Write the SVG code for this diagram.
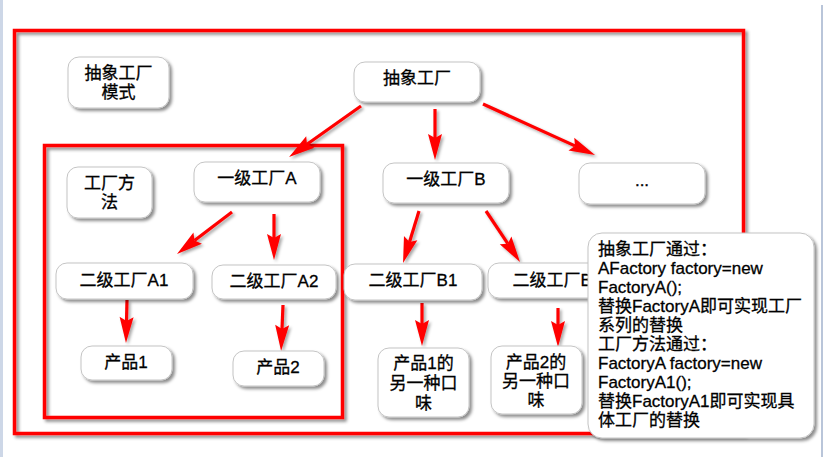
<svg xmlns="http://www.w3.org/2000/svg" width="823" height="457" viewBox="0 0 823 457">
<defs>
<filter id="sh" x="-10%" y="-10%" width="130%" height="130%">
<feDropShadow dx="2.5" dy="2.5" stdDeviation="1.8" flood-color="#000" flood-opacity="0.45"/>
</filter>
<filter id="shl" x="-20%" y="-20%" width="140%" height="140%">
<feDropShadow dx="2" dy="2" stdDeviation="1.5" flood-color="#000" flood-opacity="0.35"/>
</filter>
<marker id="ah" markerUnits="userSpaceOnUse" markerWidth="40" markerHeight="20" viewBox="-6 -10 30 20" refX="0" refY="0" orient="auto" overflow="visible">
<path d="M-4,-7 L22,0 L-4,7 L0,0 Z" fill="#ff0000"/>
</marker>
</defs>
<style>
.node rect{fill:#fff;stroke:#c4c4c4;stroke-width:1;filter:url(#sh)}
text{font-family:"Liberation Sans","Noto Sans CJK SC",Arial,sans-serif;font-size:17px;fill:#000;stroke:#000;stroke-width:0.3}
.c{text-anchor:middle}
.frame{fill:none;stroke:#ff0000;stroke-width:3.5;filter:url(#sh)}
.conn line{stroke:#ff0000;stroke-width:3.2;marker-end:url(#ah)}
</style>
<rect width="823" height="457" fill="#fff"/>
<rect x="0" y="0" width="3" height="457" fill="#cdd7e7"/>
<rect x="821" y="5" width="2" height="452" fill="#b9c5d9"/>

<g id="frames">
<rect class="frame" x="14.5" y="30.5" width="729" height="403"/>
<rect class="frame" x="44.5" y="145.5" width="298" height="272"/>
</g>

<g id="connectors" class="conn" filter="url(#shl)">
<line x1="361" y1="106" x2="307" y2="144.3"/>
<line x1="435" y1="109" x2="435" y2="138"/>
<line x1="483" y1="104" x2="575" y2="145.9"/>
<line x1="232" y1="212" x2="194.5" y2="240.6"/>
<line x1="274" y1="214" x2="274" y2="238"/>
<line x1="419" y1="211" x2="409.5" y2="242"/>
<line x1="486" y1="211" x2="507.8" y2="243.7"/>
<line x1="127" y1="300" x2="126.5" y2="321"/>
<line x1="283" y1="305" x2="282" y2="329"/>
<line x1="422" y1="303" x2="422" y2="324"/>
<line x1="558" y1="308" x2="558" y2="325"/>
</g>

<g id="n-mode" class="node"><rect x="68" y="57" width="101" height="51" rx="11"/>
<text class="c" x="118.5" y="79">抽象工厂</text><text class="c" x="118.5" y="98">模式</text></g>

<g id="n-abs" class="node"><rect x="354" y="62" width="126" height="40" rx="11"/>
<text class="c" x="417" y="84">抽象工厂</text></g>

<g id="n-fm" class="node"><rect x="67" y="167" width="85" height="51" rx="11"/>
<text class="c" x="109.5" y="189">工厂方</text><text class="c" x="109.5" y="208">法</text></g>

<g id="n-a" class="node"><rect x="194" y="162" width="126" height="40" rx="11"/>
<text class="c" x="257" y="184">一级工厂A</text></g>

<g id="n-b" class="node"><rect x="383" y="163" width="126" height="40" rx="11"/>
<text class="c" x="446" y="185">一级工厂B</text></g>

<g id="n-etc" class="node"><rect x="579" y="163" width="126" height="41" rx="11"/>
<text class="c" x="642" y="186">...</text></g>

<g id="n-a1" class="node"><rect x="56" y="263" width="137" height="36" rx="11"/>
<text class="c" x="124" y="286">二级工厂A1</text></g>

<g id="n-a2" class="node"><rect x="212" y="265" width="124" height="34" rx="11"/>
<text class="c" x="274" y="287">二级工厂A2</text></g>

<g id="n-b1" class="node"><rect x="344" y="264" width="138" height="36" rx="11"/>
<text class="c" x="413" y="286">二级工厂B1</text></g>

<g id="n-b2" class="node"><rect x="488" y="263" width="126" height="35" rx="11"/>
<text class="c" x="557" y="286">二级工厂B2</text></g>

<g id="n-p1" class="node"><rect x="81" y="346" width="91" height="34" rx="11"/>
<text class="c" x="126" y="368">产品1</text></g>

<g id="n-p2" class="node"><rect x="233" y="351" width="91" height="35" rx="11"/>
<text class="c" x="278" y="373">产品2</text></g>

<g id="n-p1b" class="node"><rect x="378" y="348" width="91" height="69" rx="11"/>
<text class="c" x="423.5" y="369">产品1的</text><text class="c" x="423.5" y="389">另一种口</text><text class="c" x="423.5" y="409">味</text></g>

<g id="n-p2b" class="node"><rect x="491" y="346" width="91" height="68" rx="11"/>
<text class="c" x="536" y="368">产品2的</text><text class="c" x="536" y="387">另一种口</text><text class="c" x="536" y="406">味</text></g>

<g id="n-note" class="node"><rect x="588" y="233" width="226" height="205" rx="14"/>
<text x="598" y="255">抽象工厂通过：</text>
<text x="598" y="274">AFactory factory=new</text>
<text x="598" y="293">FactoryA();</text>
<text x="598" y="312">替换FactoryA即可实现工厂</text>
<text x="598" y="330.5">系列的替换</text>
<text x="598" y="350">工厂方法通过：</text>
<text x="598" y="369">FactoryA factory=new</text>
<text x="598" y="388">FactoryA1();</text>
<text x="598" y="407">替换FactoryA1即可实现具</text>
<text x="598" y="425.5">体工厂的替换</text>
</g>
</svg>
